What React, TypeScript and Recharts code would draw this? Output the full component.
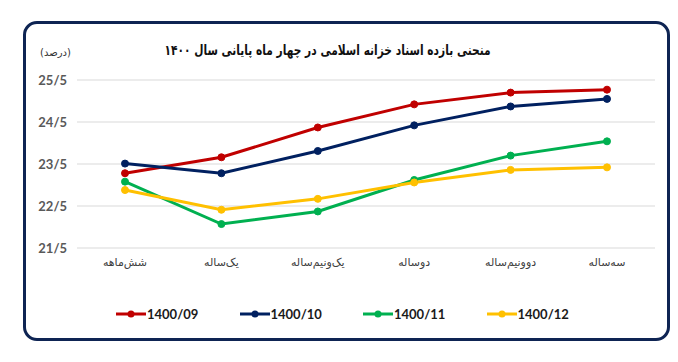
import React from 'react';
import { LineChart, Line, XAxis, YAxis, CartesianGrid, Legend } from 'recharts';

const categories = ['شش‌ماهه', 'یک‌ساله', 'یک‌ونیم‌ساله', 'دوساله', 'دوونیم‌ساله', 'سه‌ساله'];
const s1400_09 = [23.28, 23.66, 24.37, 24.92, 25.2, 25.27];
const s1400_10 = [23.51, 23.28, 23.81, 24.42, 24.87, 25.05];
const s1400_11 = [23.08, 22.07, 22.37, 23.12, 23.7, 24.04];
const s1400_12 = [22.88, 22.41, 22.67, 23.06, 23.36, 23.42];
const yTicks = [21.5, 22.5, 23.5, 24.5, 25.5];
const seriesNames = ['1400/09', '1400/10', '1400/11', '1400/12'];
const seriesColors = ['#C00000', '#002060', '#00B050', '#FFC000'];
const title = 'منحنی بازده اسناد خزانه اسلامی در چهار ماه پایانی سال ۱۴۰۰';
const unit = '(درصد)';

const allSeries = [s1400_09, s1400_10, s1400_11, s1400_12];
const data = categories.map((c, i) => {
  const row: any = { cat: c };
  seriesNames.forEach((n, k) => {
    row[n] = allSeries[k][i];
  });
  return row;
});

const persianFont = '"DejaVu Sans", sans-serif';

const renderLegend = () => (
  <div style={{ display: 'flex', justifyContent: 'flex-start', paddingLeft: 116, height: 20, alignItems: 'center' }}>
    {seriesNames.map((n, k) => (
      <div key={n} style={{ display: 'flex', alignItems: 'center', width: 123.5 }}>
        <svg width={30} height={10}>
          <line x1={0} y1={5} x2={30} y2={5} stroke={seriesColors[k]} strokeWidth={3} />
          <circle cx={15} cy={5} r={3.5} fill={seriesColors[k]} />
        </svg>
        <span style={{ fontFamily: 'Lato, sans-serif', fontWeight: 700, fontSize: 13, color: '#1a1a1a', marginLeft: 1 }}>{n}</span>
      </div>
    ))}
  </div>
);

export default function App() {
  return (
    <div style={{ position: 'absolute', left: 0, top: 0, width: 678, height: 362, background: '#fff' }}>
      <div
        style={{
          position: 'absolute',
          left: 23,
          top: 21,
          width: 641,
          height: 314,
          border: '3px solid #0E2453',
          borderRadius: 14,
          boxSizing: 'content-box',
        }}
      />
      <div
        style={{
          position: 'absolute',
          left: 0,
          width: 656,
          top: 40,
          height: 20,
          textAlign: 'center',
        }}
      >
        <span
          style={{
            display: 'inline-block',
            fontFamily: persianFont,
            fontWeight: 700,
            fontSize: 14,
            lineHeight: '20px',
            color: '#111',
            direction: 'rtl',
            whiteSpace: 'nowrap',
            transform: 'scaleX(0.76)',
            transformOrigin: 'center',
          }}
        >
          {title}
        </span>
      </div>
      <div
        style={{
          position: 'absolute',
          left: 40,
          top: 47,
          lineHeight: '12px',
          fontFamily: persianFont,
          fontSize: 10,
          color: '#333',
          direction: 'rtl',
          whiteSpace: 'nowrap',
        }}
      >
        {unit}
      </div>
      <div style={{ position: 'absolute', left: 0, top: 0 }}>
        <LineChart width={678} height={362} data={data} margin={{ top: 80, right: 23, left: 0, bottom: 38 }}>
          <CartesianGrid vertical={false} stroke="#D9D9D9" strokeWidth={1} />
          <XAxis
            dataKey="cat"
            axisLine={false}
            tickLine={false}
            height={56}
            padding={{ left: 48, right: 48 }}
            tickSize={0}
            tickMargin={10}
            interval={0}
            tick={{ fontFamily: persianFont, fontSize: 11, fill: '#404040' }}
          />
          <YAxis
            domain={[21.5, 25.5]}
            ticks={yTicks}
            width={77}
            axisLine={false}
            tickLine={false}
            tickSize={0}
            tickMargin={10}
            tickFormatter={(v: number) => v.toFixed(1).replace('.', '/')}
            tick={{ fontFamily: 'Lato, sans-serif', fontWeight: 700, fontSize: 13, fill: '#595959' }}
          />
          <Legend verticalAlign="bottom" height={20} content={renderLegend} />
          {seriesNames.map((n, k) => (
            <Line
              key={n}
              dataKey={n}
              stroke={seriesColors[k]}
              strokeWidth={3}
              dot={{ r: 3.5, fill: seriesColors[k], stroke: seriesColors[k], strokeWidth: 1 }}
              isAnimationActive={false}
            />
          ))}
        </LineChart>
      </div>
    </div>
  );
}
